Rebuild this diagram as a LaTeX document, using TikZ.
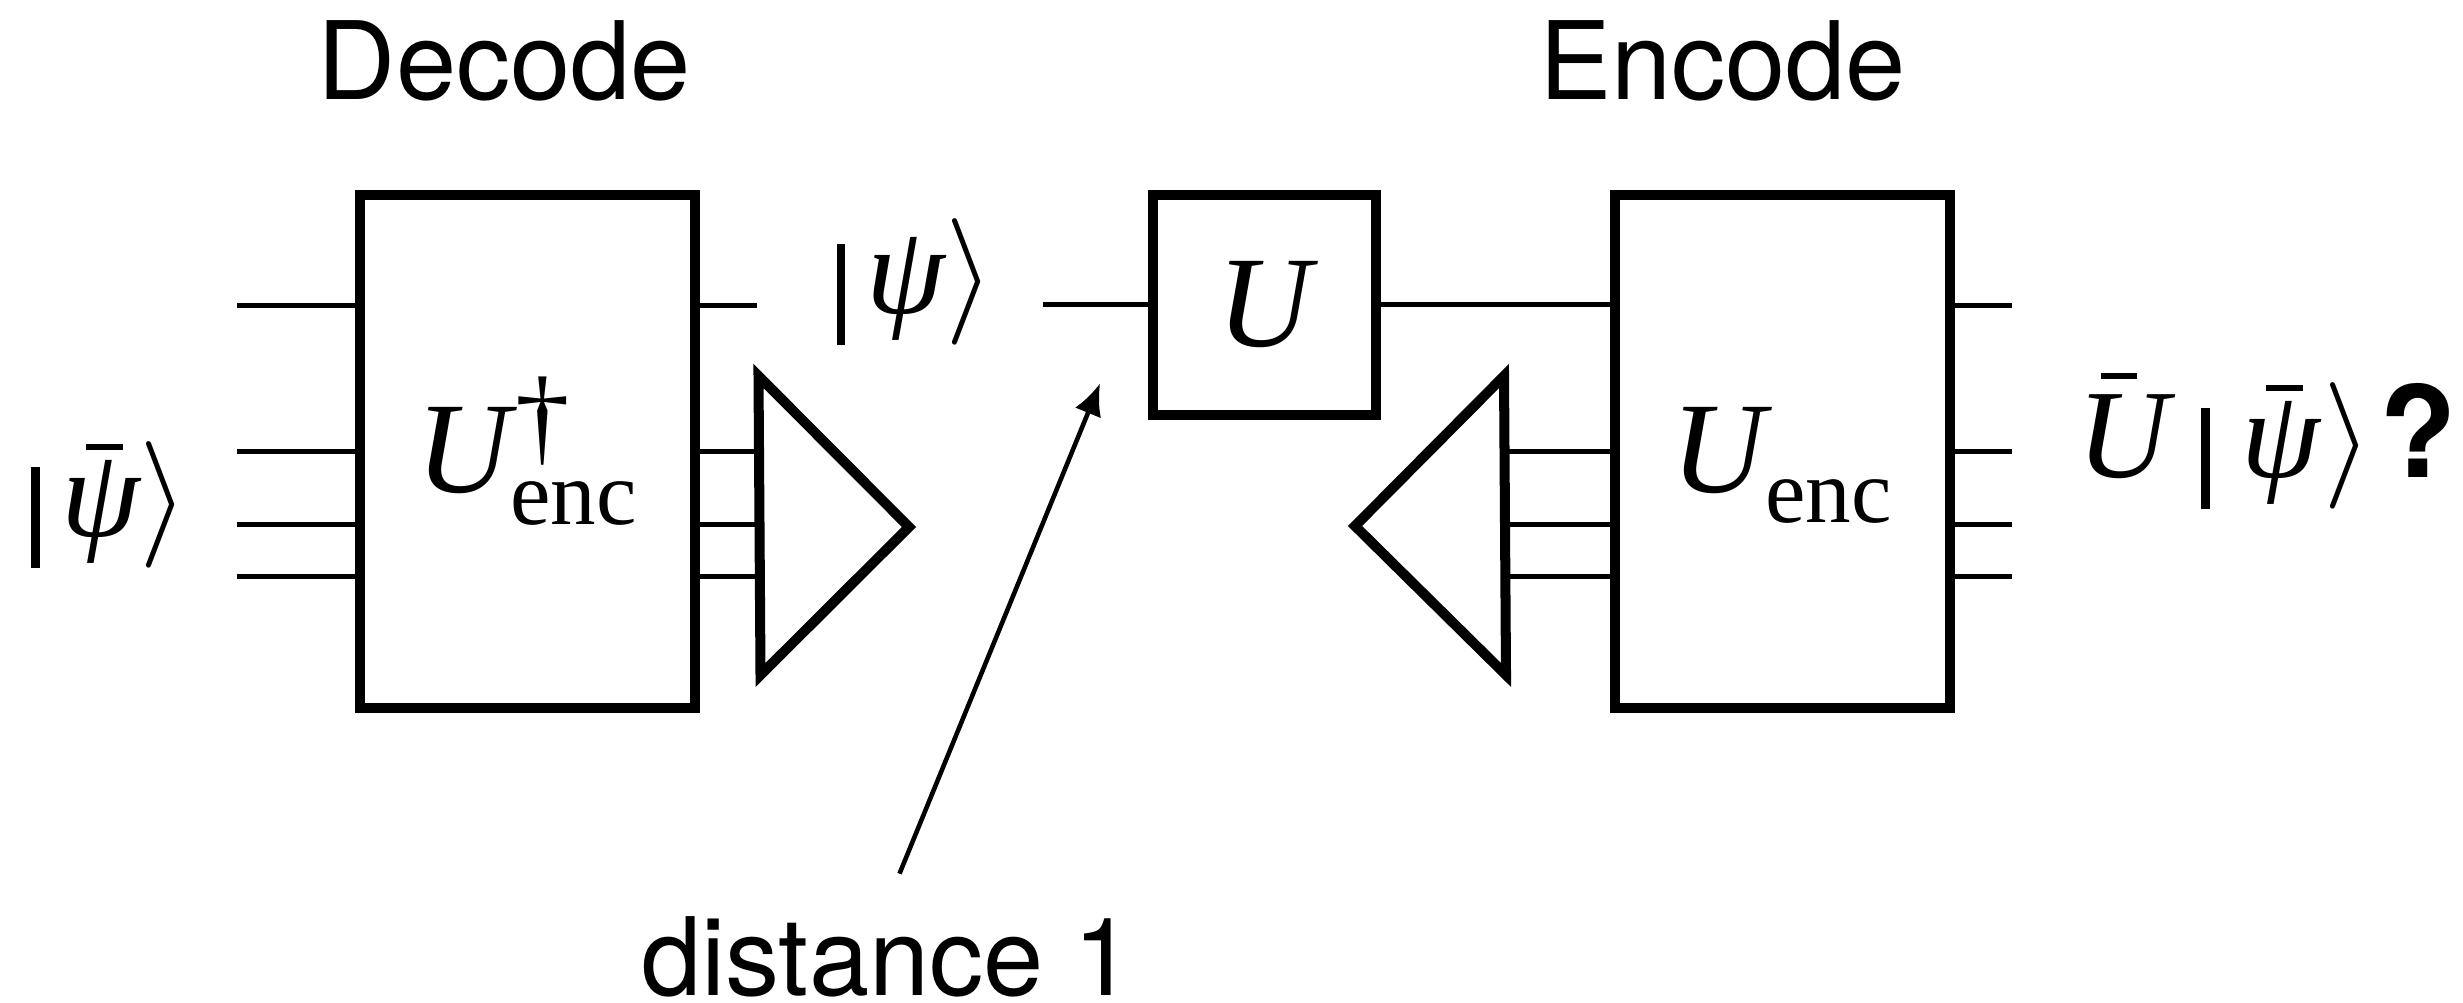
\documentclass[tikz,border=0pt]{standalone}
\usepackage{fix-cm}
\usepackage{amsmath}
\usepackage[no-math]{fontspec}
\setmainfont{TeX Gyre Heros}
\newfontfamily\timesf{Liberation Serif}
\usetikzlibrary{arrows.meta}
\usetikzlibrary{positioning}
\tikzset{>={Latex[length=9pt,width=8pt]}, node distance=1cm, font=\fontsize{30.8}{31}\selectfont}
\tikzstyle{block} = [draw, line width=2.85pt, fill=white, rectangle, inner sep=0pt, text centered, align=center, font=\fontsize{37}{37}\selectfont]
\tikzstyle{input} = [coordinate]
\tikzstyle{output} = [coordinate]
\tikzstyle{wire} = [line width=1.45pt]
\tikzstyle{wedge} = [draw, line width=2.85pt, miter limit=10]
\tikzstyle{ket} = [inner sep=0pt, font=\fontsize{36}{36}\selectfont]
\newcommand{\gU}{\text{\timesf\itshape U}}
\newcommand{\gpsi}{\text{\timesf\itshape ψ}}
\newcommand{\enc}[1]{\text{\raisebox{#1}{\timesf enc}}}
\newcommand{\gdag}{\mkern1mu\text{\smash{\raisebox{-2.7pt}{\timesf\fontsize{31}{31}\selectfont †}}}}
\newcommand{\gbar}[3]{\text{\rlap{\hspace{#1}\raisebox{#2}{\rule{10.5pt}{1.7pt}}}}#3}
\newcommand{\blocktext}[1]{\rule{0pt}{23.6pt}\smash{$#1$}}
\newcommand{\kt}[1]{\rule[-9pt]{2.5pt}{28.7pt}\,#1\rangle}

\begin{document}
\begin{tikzpicture}
			\useasboundingbox (0,0) rectangle (24.63,-10.03);

			\node [block, minimum width=3.35cm, minimum height=5.13cm] at (5.275,-4.513) (dec) {\blocktext{\gU^{\gdag}_{\enc{0pt}}}};
			\node [block, minimum width=2.225cm, minimum height=2.2cm, right=4.48cm of dec.north east, anchor=north west] (u_gate) {\blocktext{\gU}};
			\node [block, minimum width=3.35cm, minimum height=5.13cm, right=2.295cm of u_gate.north east, anchor=north west] (enc) {\blocktext{\gU_{\enc{-2.8pt}}}};

			\node [anchor=base] at ([xshift=-0.23cm, yshift=0.906cm]dec.north) (decode) {Decode};
			\node [anchor=base] at ([xshift=-0.6cm, yshift=0.906cm]enc.north) (encode) {Encode};
			\node [anchor=base] at (8.875,-9.96) (dist) {distance 1};

			\node [input] at ([xshift=-1.18cm, yshift=-1.154cm]dec.north west) (in_1) {};
			\node [input, below=1.466cm of in_1] (in_2) {};
			\node [input, below=0.724cm of in_2] (in_3) {};
			\node [input, below=0.52cm of in_3] (in_4) {};

			\node [output] at ([xshift=0.57cm]dec.east |- in_1) (dec_o1) {};
			\node [input] at ([xshift=-1.05cm]u_gate.west) (u_in) {};
			\node [output] at ([xshift=0.57cm]enc.east |- in_1) (out_1) {};
			\node [output] at ([xshift=0.57cm]enc.east |- in_2) (out_2) {};
			\node [output] at ([xshift=0.57cm]enc.east |- in_3) (out_3) {};
			\node [output] at ([xshift=0.57cm]enc.east |- in_4) (out_4) {};

			\node [input] at (7.585,-3.76) (r_top) {};
			\node [input] at (7.605,-6.75) (r_bot) {};
			\node [input] at (9.09,-5.27) (r_tip) {};
			\node [input] at (15.04,-3.76) (l_top) {};
			\node [input] at (15.06,-6.75) (l_bot) {};
			\node [input] at (13.55,-5.26) (l_tip) {};

			\draw [wedge] (r_top) -- (r_tip) -- (r_bot) -- cycle;
			\draw [wedge] (l_top) -- (l_tip) -- (l_bot) -- cycle;

			\draw [wire] (in_1) -- (in_1 -| dec.west);
			\draw [wire] (in_2) -- (in_2 -| dec.west);
			\draw [wire] (in_3) -- (in_3 -| dec.west);
			\draw [wire] (in_4) -- (in_4 -| dec.west);

			\draw [wire] (dec.east |- in_1) -- (dec_o1);
			\draw [wire] (dec.east |- in_2) -- (in_2 -| r_top);
			\draw [wire] (dec.east |- in_3) -- (in_3 -| r_top);
			\draw [wire] (dec.east |- in_4) -- (in_4 -| r_top);

			\draw [wire] (u_in) -- (u_gate.west);
			\draw [wire] (u_gate.east) -- (enc.west |- u_gate.east);

			\draw [wire] (in_2 -| l_top) -- (enc.west |- in_2);
			\draw [wire] (in_3 -| l_top) -- (enc.west |- in_3);
			\draw [wire] (in_4 -| l_top) -- (enc.west |- in_4);

			\draw [wire] (enc.east |- in_1) -- (out_1);
			\draw [wire] (enc.east |- in_2) -- (out_2);
			\draw [wire] (enc.east |- in_3) -- (out_3);
			\draw [wire] (enc.east |- in_4) -- (out_4);

			\node [ket] at (1.10,-5.045) (ket_l) {$\kt{\gbar{7pt}{24.5pt}{\gpsi}}$};
			\node [ket] at (9.155,-2.82) (ket_m) {$\kt{\gpsi}$};
			\node [ket, anchor=west] at (20.77,-4.41) (ket_r) {$\gbar{6.5pt}{28pt}{\gU}\mkern4.5mu\kt{\mkern1.5mu\gbar{7pt}{24.5pt}{\gpsi}\mkern0.5mu}$\hspace{2pt}\textbf{?}};

			\node [input] at ([xshift=0.12cm, yshift=0.31cm]dist.north) (dist_tail) {};
			\node [input] at (11.0,-3.835) (dist_tip) {};
			\draw [->, line width=1.3pt] (dist_tail) -- (dist_tip);
		\end{tikzpicture}
\end{document}
